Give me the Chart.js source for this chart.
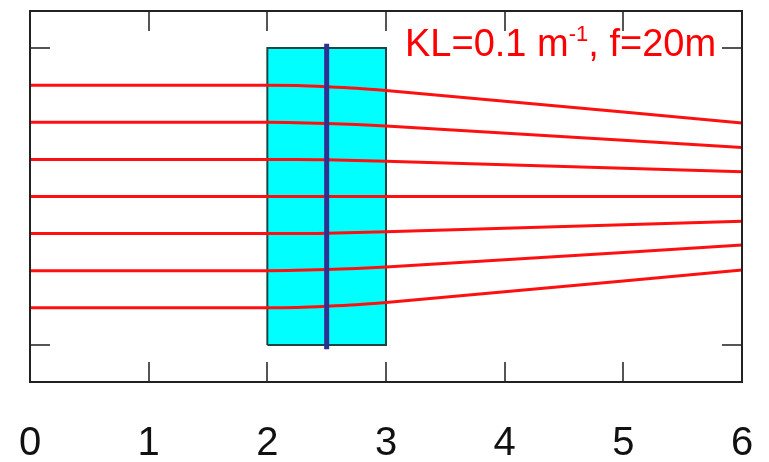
<!DOCTYPE html>
<html lang="en">
<head>
  <meta charset="UTF-8">
  <title>Quadrupole focusing</title>
  <style>
    html, body { margin: 0; padding: 0; background: #fff; }
    #wrap { width: 769px; height: 462px; position: relative; }
  </style>
</head>
<body>
  <div id="wrap"><canvas id="chart"></canvas></div>
  <script src="https://cdn.jsdelivr.net/npm/chart.js@4/dist/chart.umd.min.js"></script>
  <script>
    // x positions along the beam line (m)
    const xPos = [0, 2, 2.25, 2.5, 2.75, 3, 6];
    // ray offsets
    const rays = [
      [3, 3, 2.99, 2.96, 2.92, 2.86, 1.98],
      [2, 2, 1.99, 1.97, 1.94, 1.90, 1.32],
      [1, 1, 1.00, 0.99, 0.97, 0.95, 0.67],
      [0, 0, 0, 0, 0, 0, 0],
      [-1, -1, -1.00, -0.99, -0.97, -0.95, -0.67],
      [-2, -2, -1.99, -1.97, -1.94, -1.90, -1.31],
      [-3, -3, -2.99, -2.96, -2.92, -2.86, -1.98]
    ];
    // magnet block and thin-lens marker
    const boxX = [2, 2, 3, 3, 2];
    const boxY = [-4, 4, 4, -4, -4];
    const lensX = [2.5, 2.5];
    const lensY = [-4.12, 4.12];
    const xTicks = [0, 1, 2, 3, 4, 5, 6];
    const yTicks = [-4, 4];

    const pts = (xs, ys) => xs.map((x, i) => ({ x: x, y: ys[i] }));

    const datasets = [{
      data: pts(lensX, lensY),
      borderColor: '#2e3192',
      borderWidth: 5,
      pointRadius: 0,
      order: 0
    }];
    rays.forEach(r => datasets.push({
      data: pts(xPos, r),
      borderColor: '#ff1010',
      borderWidth: 3,
      pointRadius: 0,
      cubicInterpolationMode: 'monotone',
      order: 1
    }));
    datasets.push({
      data: pts(boxX, boxY),
      borderColor: '#1c4646',
      backgroundColor: '#00ffff',
      borderWidth: 2,
      pointRadius: 0,
      fill: 'shape',
      order: 2
    });

    // frame, inward ticks and the label
    const framePlugin = {
      id: 'frame',
      afterDatasetsDraw(chart) {
        const { ctx, chartArea: a, scales: { x, y } } = chart;
        ctx.save();
        ctx.strokeStyle = '#555';
        ctx.lineWidth = 2;
        xTicks.slice(1, -1).forEach(v => {
          const px = Math.round(x.getPixelForValue(v));
          ctx.beginPath();
          ctx.moveTo(px, a.bottom); ctx.lineTo(px, a.bottom - 20);
          ctx.moveTo(px, a.top); ctx.lineTo(px, a.top + 20);
          ctx.stroke();
        });
        yTicks.forEach(v => {
          const py = Math.round(y.getPixelForValue(v));
          ctx.beginPath();
          ctx.moveTo(a.left, py); ctx.lineTo(a.left + 20, py);
          ctx.moveTo(a.right, py); ctx.lineTo(a.right - 20, py);
          ctx.stroke();
        });
        ctx.strokeStyle = '#222';
        ctx.lineWidth = 2;
        ctx.strokeRect(a.left, a.top, a.right - a.left, a.bottom - a.top);

        // KL label
        ctx.fillStyle = '#ff0000';
        ctx.textBaseline = 'alphabetic';
        let tx = 405, ty = 56;
        const parts = [['KL=0.1 m', 38, 0], ['-1', 22, -15], [', f=20m', 38, 0]];
        parts.forEach(([t, s, dy]) => {
          ctx.font = s + 'px "Liberation Sans", Arial, sans-serif';
          ctx.fillText(t, tx, ty + dy);
          tx += ctx.measureText(t).width;
        });
        ctx.restore();
      }
    };

    new Chart(document.getElementById('chart'), {
      type: 'line',
      data: { datasets: datasets },
      options: {
        responsive: true,
        maintainAspectRatio: false,
        animation: false,
        events: [],
        layout: { padding: { left: 30, right: 27, top: 11, bottom: -44 } },
        plugins: { legend: { display: false }, tooltip: { enabled: false } },
        scales: {
          x: {
            type: 'linear',
            min: 0,
            max: 6,
            afterBuildTicks: s => { s.ticks = xTicks.map(v => ({ value: v })); },
            afterFit: s => { s.paddingLeft = 0; s.paddingRight = 0; },
            grid: { display: false, drawTicks: false },
            border: { display: false },
            ticks: {
              padding: 42,
              color: '#111',
              font: { size: 40, family: '"Liberation Sans", Arial, sans-serif', lineHeight: 1 },
              maxRotation: 0
            }
          },
          y: {
            type: 'linear',
            min: -5,
            max: 5,
            display: false
          }
        }
      },
      plugins: [framePlugin]
    });
  </script>
</body>
</html>
